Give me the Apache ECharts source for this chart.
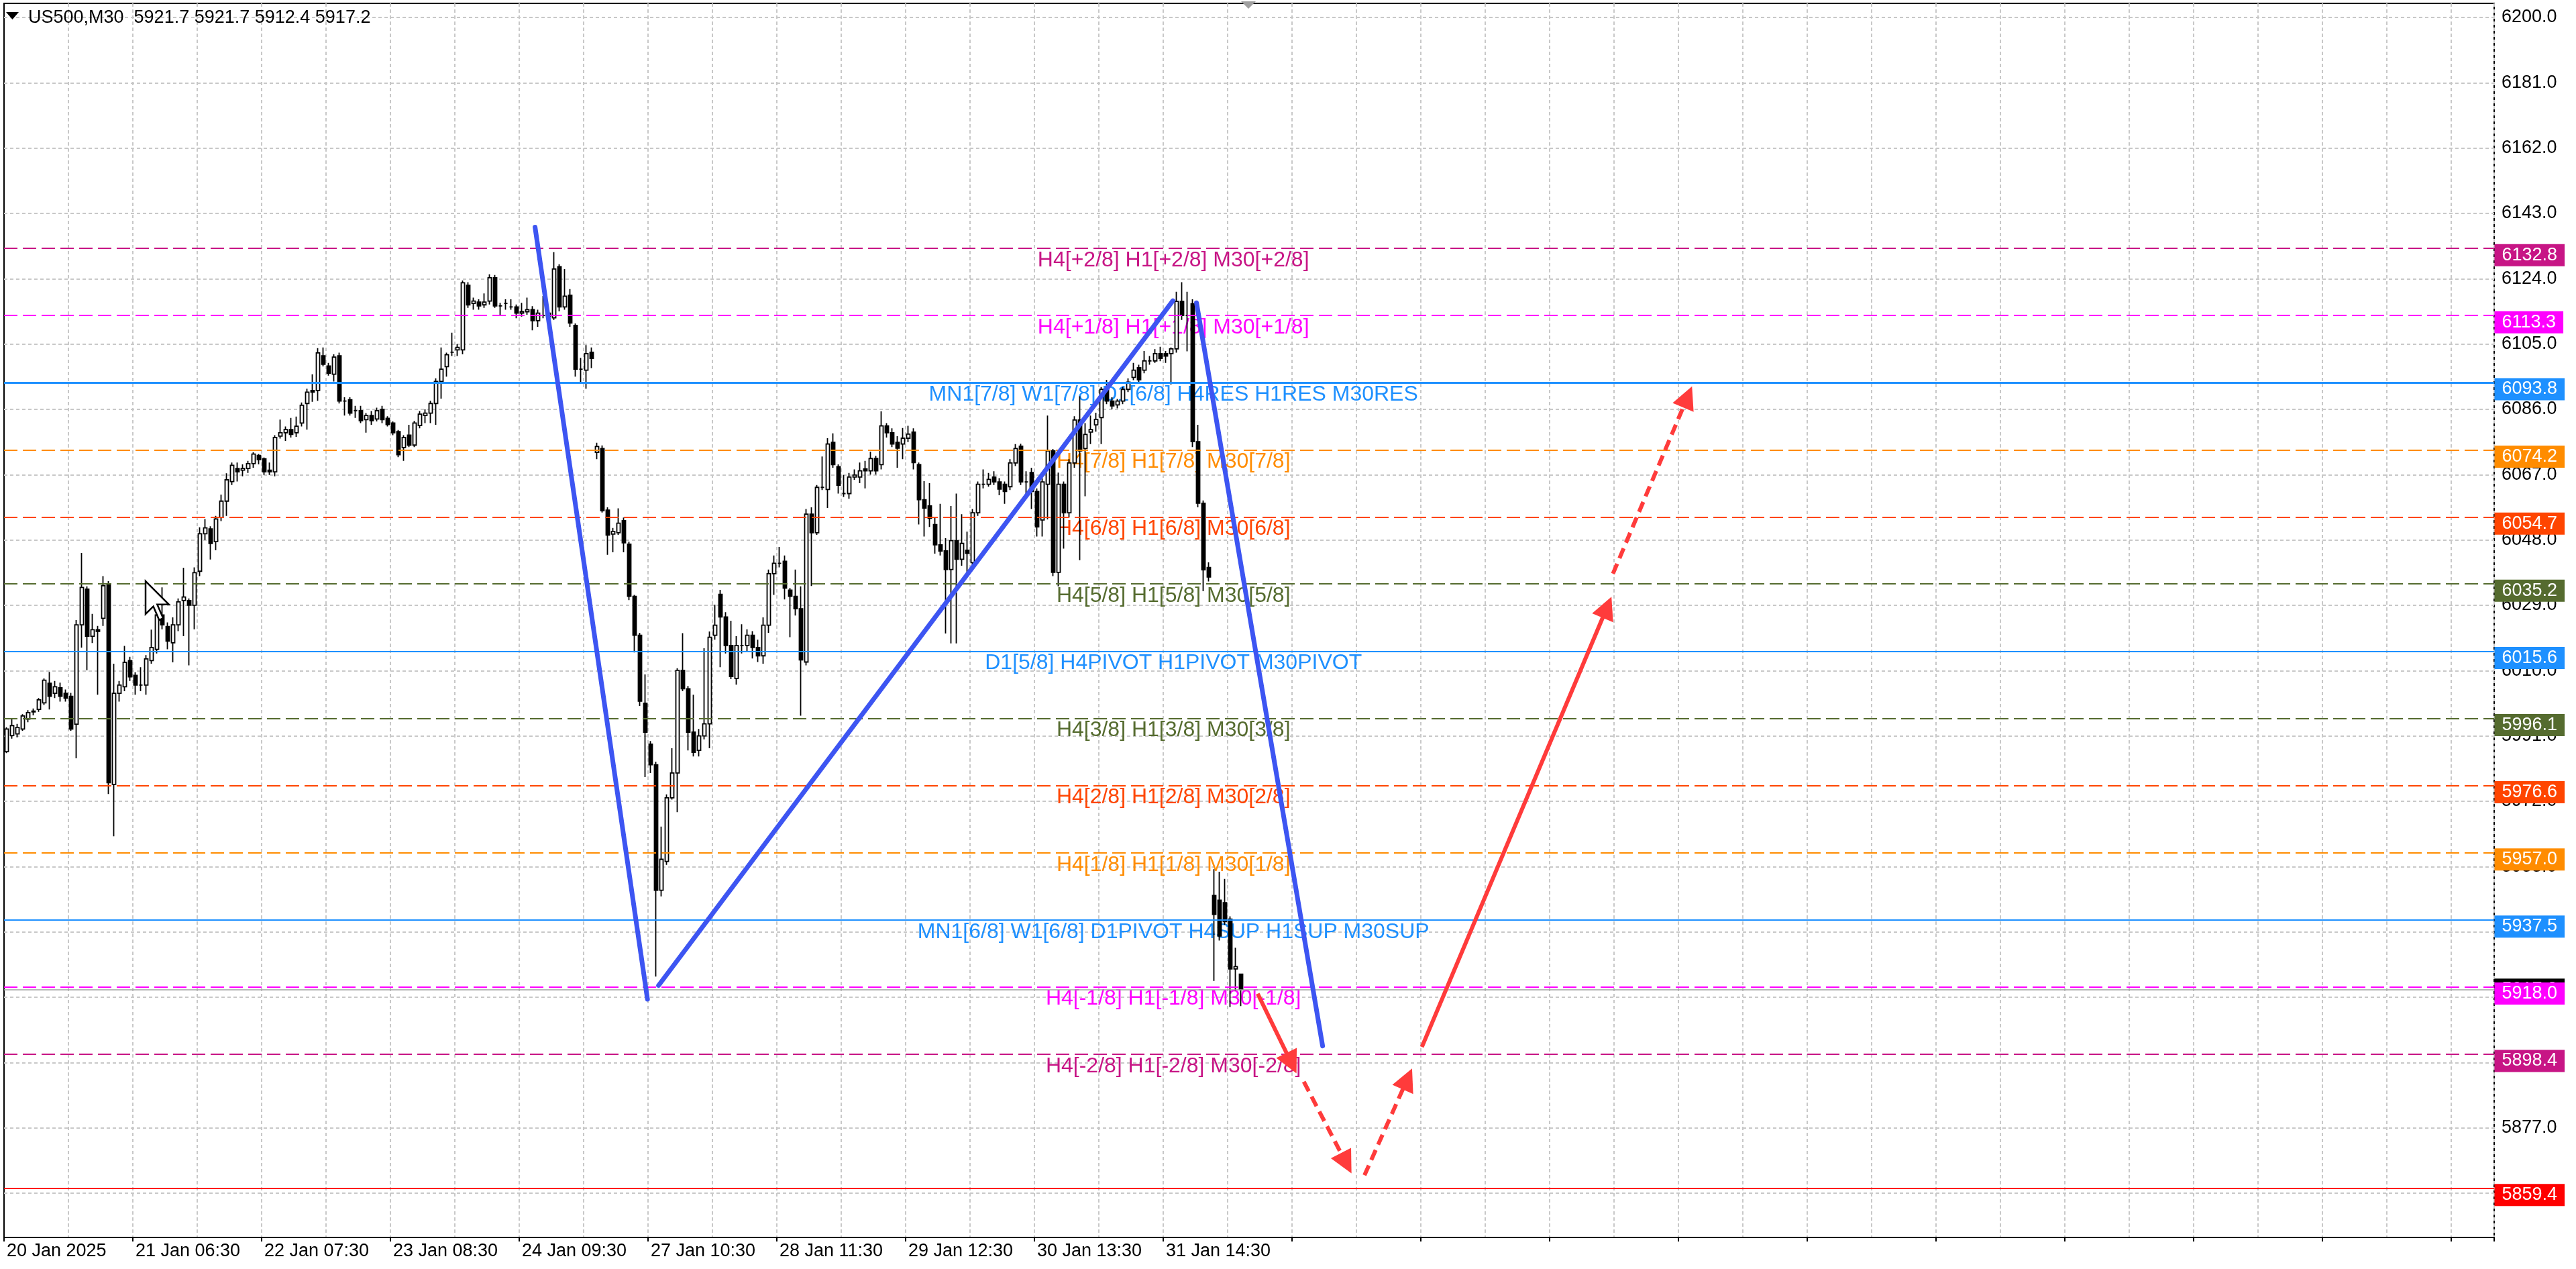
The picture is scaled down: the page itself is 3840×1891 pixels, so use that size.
<!DOCTYPE html>
<html>
<head>
<meta charset="utf-8">
<title>US500,M30</title>
<script src="https://cdn.jsdelivr.net/npm/echarts@6/dist/echarts.min.js"></script>
<style>
  html, body { margin: 0; padding: 0; background: #fff; }
  #chart { width: 3840px; height: 1891px; }
</style>
</head>
<body>
<div id="chart"></div>
<script>
// price history, one candle per hour (two M30 bars)
const opens = [
  5986.4,5991.1,5991.6,5993.0,5995.9,5998.0,5998.7,6000.6,6006.3,6003.4,
  6005.0,6003.4,6002.5,5994.4,6023.3,6033.7,6020.0,6021.9,6025.2,6035.2,
  5976.9,6003.4,6005.3,6012.9,6008.6,6005.8,6005.8,6012.9,6016.2,6026.2,
  6022.8,6018.1,6023.3,6030.4,6030.4,6029.0,6038.9,6049.8,6051.2,6047.5,
  6054.6,6059.3,6065.0,6068.8,6068.3,6068.8,6070.2,6072.6,6071.6,6068.3,
  6067.8,6078.2,6079.2,6080.1,6079.2,6082.0,6087.7,6091.5,6091.5,6101.6,
  6098.6,6096.2,6101.6,6088.4,6088.8,6085.6,6085.6,6083.0,6084.2,6083.2,
  6086.0,6083.4,6082.0,6079.5,6074.9,6078.5,6075.6,6081.3,6084.2,6084.9,
  6087.7,6094.1,6098.4,6102.6,6103.3,6103.3,6122.1,6116.8,6117.2,6116.4,
  6117.5,6124.3,6116.1,6116.8,6115.8,6115.8,6114.0,6114.4,6115.0,6111.8,
  6113.3,6114.0,6112.6,6127.5,6115.8,6119.2,6110.4,6097.7,6097.4,6102.6,
  6073.5,6074.6,6056.7,6049.7,6050.1,6053.6,6046.8,6031.6,6020.3,6000.5,
  5988.6,5982.6,5946.1,5954.5,5973.0,5980.2,6010.1,6004.7,5992.1,5986.8,
  5991.0,5994.5,6020.3,6032.2,6025.6,6017.3,6007.7,6017.3,6017.3,6020.3,
  6016.7,6014.3,6023.2,6038.2,6041.2,6041.8,6033.4,6031.6,6028.0,6012.5,
  6055.5,6050.1,6063.3,6062.7,6076.4,6069.3,6061.5,6061.5,6066.3,6066.3,
  6068.7,6068.1,6071.7,6069.9,6081.2,6079.2,6076.4,6075.9,6077.6,6079.4,
  6069.9,6059.7,6057.9,6052.5,6046.6,6044.8,6039.4,6047.8,6042.4,6045.0,
  6041.4,6055.9,6064.2,6064.2,6066.3,6064.9,6064.2,6063.5,6070.4,6075.3,
  6064.9,6067.6,6062.1,6053.8,6064.2,6073.9,6038.6,6064.2,6055.9,6070.4,
  6082.9,6074.6,6079.4,6081.5,6083.6,6091.8,6088.4,6087.3,6088.4,6091.8,
  6095.3,6098.1,6097.4,6100.1,6100.1,6102.2,6102.2,6102.2,6103.6,6117.4,
  6113.3,6116.7,6076.6,6058.7,6040.0,5944.6,5943.2,5942.5,5937.7,5923.2,
  5921.7
];
const closes = [
  5993.0,5994.0,5993.5,5996.8,5997.8,5998.2,6001.5,6007.2,6002.5,6005.3,
  6002.5,6002.0,5993.0,6023.3,6034.2,6020.0,6021.9,6021.4,6034.7,5977.4,
  6003.4,6005.8,6012.4,6008.2,6005.8,6005.8,6013.4,6016.7,6026.2,6023.3,
  6018.6,6023.3,6030.0,6031.4,6029.0,6038.5,6049.8,6051.5,6047.0,6054.1,
  6059.3,6065.5,6069.7,6067.8,6068.8,6070.2,6073.0,6071.4,6067.8,6067.8,
  6077.8,6079.2,6080.1,6078.7,6081.1,6087.2,6091.0,6091.0,6102.4,6099.1,
  6096.5,6101.2,6088.4,6088.4,6084.9,6085.6,6082.7,6084.2,6082.7,6085.6,
  6083.0,6081.6,6079.2,6072.8,6077.8,6075.6,6082.0,6084.6,6084.9,6087.7,
  6094.1,6097.7,6101.9,6102.6,6104.0,6122.8,6116.4,6117.5,6116.1,6117.2,
  6124.3,6116.1,6116.1,6116.8,6115.8,6114.0,6114.4,6115.0,6111.8,6114.0,
  6113.3,6113.0,6126.8,6115.8,6118.9,6111.1,6097.7,6097.7,6102.2,6100.8,
  6075.2,6056.5,6049.4,6050.5,6052.9,6047.2,6031.6,6020.3,6001.1,5992.1,
  5982.6,5946.1,5955.1,5973.0,5980.2,6010.1,6004.7,5992.1,5986.2,5991.0,
  5994.5,6019.7,6023.2,6025.6,6017.3,6008.3,6017.3,6017.3,6020.3,6016.7,
  6014.3,6023.2,6038.2,6041.2,6041.2,6034.0,6031.6,6028.0,6013.1,6055.5,
  6050.1,6063.3,6063.3,6075.9,6069.9,6063.9,6061.5,6066.3,6066.9,6068.1,
  6068.1,6071.7,6068.1,6081.2,6079.2,6075.9,6074.7,6077.6,6078.8,6070.5,
  6059.7,6057.3,6054.3,6046.6,6044.8,6039.4,6047.8,6042.4,6047.0,6044.1,
  6055.9,6064.2,6064.2,6065.6,6064.9,6062.8,6062.1,6070.4,6074.6,6064.9,
  6064.9,6062.1,6051.8,6064.9,6073.9,6038.6,6064.2,6055.9,6070.4,6082.9,
  6073.9,6078.7,6080.1,6083.1,6091.8,6088.4,6087.0,6088.4,6091.8,6093.9,
  6097.4,6094.6,6100.1,6100.1,6102.2,6100.8,6101.5,6103.6,6117.4,6113.3,
  6113.3,6076.6,6058.7,6039.3,6037.2,5939.1,5932.8,5937.0,5923.2,5923.9,
  5917.2
];
const lows = [
  5986.0,5990.2,5990.6,5992.5,5995.0,5997.0,5998.0,6000.0,5998.7,6002.0,
  6001.0,6001.0,5992.5,5984.5,6016.7,6010.1,6018.0,6003.0,6023.0,5974.1,
  5961.8,6001.0,6004.0,6007.0,6003.0,6004.0,6003.0,6012.0,6015.0,6022.0,
  6016.2,6012.4,6021.5,6020.0,6011.5,6022.0,6037.5,6048.0,6042.3,6045.0,
  6053.5,6055.0,6064.0,6065.0,6066.5,6067.5,6069.0,6070.0,6066.9,6066.9,
  6066.5,6077.5,6076.8,6077.8,6078.0,6081.0,6080.1,6088.2,6088.5,6098.5,
  6095.8,6094.1,6087.7,6084.2,6084.2,6083.5,6082.0,6079.2,6081.5,6082.5,
  6082.0,6081.0,6078.5,6072.1,6071.0,6075.0,6075.0,6080.5,6082.0,6082.0,
  6081.5,6089.1,6095.5,6101.5,6101.5,6102.0,6115.5,6115.0,6115.0,6115.5,
  6116.5,6115.5,6113.5,6115.0,6115.0,6112.5,6113.0,6113.5,6109.0,6110.0,
  6112.5,6112.0,6112.0,6114.5,6115.0,6110.0,6095.5,6093.4,6092.0,6098.0,
  6071.5,6056.0,6043.7,6044.4,6049.5,6044.4,6030.5,6015.3,5999.7,5979.0,
  5980.2,5921.0,5944.3,5953.5,5972.5,5968.8,6004.0,5986.8,5985.0,5985.0,
  5990.0,5987.4,6019.0,6011.0,6015.0,6007.5,6005.9,6015.0,6015.5,6013.5,
  6012.5,6012.0,6021.0,6032.0,6040.0,6030.7,6019.7,6026.0,5996.9,6011.5,
  6034.6,6049.5,6062.5,6057.3,6069.0,6061.5,6060.5,6060.0,6065.5,6064.5,
  6063.0,6067.0,6067.0,6068.5,6077.8,6075.0,6069.0,6071.5,6076.5,6068.5,
  6052.5,6049.0,6051.8,6044.0,6043.5,6020.8,6017.9,6017.9,6040.5,6037.2,
  6040.0,6055.0,6063.0,6063.5,6064.0,6061.0,6058.5,6062.5,6069.5,6064.0,
  6061.0,6057.0,6049.0,6049.0,6054.0,6037.5,6034.5,6045.5,6054.5,6069.0,
  6042.1,6060.7,6075.9,6079.5,6075.9,6087.5,6086.0,6086.3,6087.5,6091.0,
  6094.5,6093.5,6096.5,6099.0,6099.5,6100.0,6099.5,6093.2,6102.5,6112.0,
  6102.9,6075.0,6057.5,6033.1,6035.9,5919.7,5931.5,5936.0,5912.1,5916.9,
  5912.4
];
const highs = [
  5993.5,5996.0,5994.5,5997.3,5998.5,5999.0,6002.0,6007.7,6009.6,6007.0,
  6006.5,6004.5,6003.5,6024.7,6044.2,6034.5,6026.5,6023.0,6037.5,6036.0,
  6012.0,6007.0,6017.2,6014.0,6009.5,6011.0,6014.5,6021.9,6027.0,6034.2,
  6024.0,6025.5,6031.0,6039.9,6031.0,6040.0,6051.7,6054.1,6052.0,6055.0,
  6061.2,6067.4,6070.5,6070.5,6070.0,6071.0,6073.5,6073.0,6072.0,6070.5,
  6078.5,6083.0,6081.0,6083.5,6083.9,6088.0,6092.0,6096.2,6103.8,6104.0,
  6099.5,6102.0,6102.5,6089.5,6089.5,6087.0,6087.0,6084.9,6085.5,6086.5,
  6087.0,6084.0,6082.5,6080.0,6078.5,6081.5,6082.7,6085.5,6086.0,6088.5,
  6095.0,6104.0,6102.5,6108.3,6105.0,6123.5,6123.0,6118.5,6118.0,6119.7,
  6125.3,6125.1,6117.0,6118.0,6118.0,6116.5,6117.0,6118.5,6116.0,6115.0,
  6119.0,6114.5,6131.7,6128.2,6126.8,6121.0,6111.0,6101.0,6104.7,6104.0,
  6076.3,6075.5,6057.5,6051.5,6057.2,6054.5,6047.5,6032.0,6021.0,6008.9,
  5989.5,5983.5,5964.6,5974.0,5987.4,6010.7,6020.9,6005.5,6003.0,5993.0,
  6016.5,6021.4,6029.2,6033.5,6027.0,6024.5,6020.0,6023.5,6022.0,6021.5,
  6019.0,6025.5,6039.4,6043.5,6046.0,6043.5,6034.0,6039.4,6034.5,6057.0,
  6057.5,6064.0,6072.3,6077.6,6079.0,6070.0,6066.9,6067.5,6068.5,6070.5,
  6071.0,6073.7,6072.5,6085.4,6082.0,6080.5,6078.2,6080.6,6081.2,6080.5,
  6070.5,6065.1,6064.5,6054.5,6058.5,6048.5,6057.9,6061.5,6055.5,6050.4,
  6057.0,6065.0,6068.5,6067.5,6068.0,6066.0,6065.0,6071.5,6075.9,6076.0,
  6068.0,6069.0,6063.0,6066.0,6084.2,6074.5,6067.6,6065.0,6071.5,6084.0,
  6089.8,6082.0,6084.2,6085.0,6092.5,6094.6,6089.5,6089.0,6092.5,6095.0,
  6099.5,6099.0,6103.0,6101.5,6103.5,6104.2,6103.0,6104.0,6120.2,6123.0,
  6120.2,6118.0,6081.5,6059.5,6041.5,5952.2,5951.5,5949.4,5938.5,5929.4,
  5921.7
];

// time labels, one every 24 slots
const timeLabels = ['20 Jan 2025', '21 Jan 06:30', '22 Jan 07:30', '23 Jan 08:30', '24 Jan 09:30',
  '27 Jan 10:30', '28 Jan 11:30', '29 Jan 12:30', '30 Jan 13:30', '31 Jan 14:30'];

// price scale tick labels
const yTicks = [6200, 6181, 6162, 6143, 6124, 6105, 6086, 6067, 6048, 6029, 6010,
  5991, 5972, 5953, 5934, 5915, 5896, 5877, 5858];

// murrey math levels and their captions
const levelValues = [6132.8, 6113.3, 6093.8, 6074.2, 6054.7, 6035.2, 6015.6,
  5996.1, 5976.6, 5957.0, 5937.5, 5918.0, 5898.4];
const levelTexts = [
  'H4[+2/8] H1[+2/8] M30[+2/8]',
  'H4[+1/8] H1[+1/8] M30[+1/8]',
  'MN1[7/8] W1[7/8] D1[6/8] H4RES H1RES M30RES',
  'H4[7/8] H1[7/8] M30[7/8]',
  'H4[6/8] H1[6/8] M30[6/8]',
  'H4[5/8] H1[5/8] M30[5/8]',
  'D1[5/8] H4PIVOT H1PIVOT M30PIVOT',
  'H4[3/8] H1[3/8] M30[3/8]',
  'H4[2/8] H1[2/8] M30[2/8]',
  'H4[1/8] H1[1/8] M30[1/8]',
  'MN1[6/8] W1[6/8] D1PIVOT H4SUP H1SUP M30SUP',
  'H4[-1/8] H1[-1/8] M30[-1/8]',
  'H4[-2/8] H1[-2/8] M30[-2/8]'
];
const targetLevel = 5859.4;

// hand drawn objects, [slot, price] pairs
const trendLines = [
  [[98.95, 6139.0], [119.9, 5914.4]],
  [[121.96, 5918.4], [217.8, 6117.6]],
  [[222.2, 6117.0], [245.7, 5900.8]]
];
const forecastArrows = [
  [[233.6, 5916.0], [239.9, 5895.8]],
  [[242.2, 5890.4], [250.1, 5866.7]],
  [[253.5, 5863.2], [261.5, 5891.2]],
  [[264.2, 5900.5], [298.7, 6028.4]],
  [[299.8, 6038.2], [313.7, 6089.6]]
];

// styles
const FONT = 'Liberation Sans';
const levelColors = ['#C71585', '#FF00FF', '#1E90FF', '#FF8C00', '#FF4500', '#556B2F', '#1E90FF',
  '#556B2F', '#FF4500', '#FF8C00', '#1E90FF', '#FF00FF', '#C71585'];
const levelSolid = [false, false, true, false, false, false, true, false, false, false, true, false, false];
const arrowDashed = [false, true, true, false, true];
const GRID_GRAY = '#c8c8c8';
const N = 464;          // slots on the time axis (history + free space)
const labelX = 217.9;   // where the level captions are centred

const categories = [];
for (let i = 0; i < N; i++) {
  categories.push(i % 24 === 0 && timeLabels[i / 24] ? timeLabels[i / 24] : '');
}
const candles = opens.map((o, i) => [o, closes[i], lows[i], highs[i]]);
const last = opens.length - 1;
const bid = closes[last];
const title = 'US500,M30  ' + [opens[last], highs[last], lows[last], closes[last]]
  .map(v => v.toFixed(1)).join(' ');

const tagValues = levelValues.concat([targetLevel]);
const tagColors = levelColors.concat(['#FF0000']);

// mouse pointer left on the screenshot
const cursor = [[217, 866], [217, 915], [228.6, 903.7], [237.3, 924], [243.1, 921.1], [234.4, 900.8], [251.8, 900.8]];

const chart = echarts.init(document.getElementById('chart'));

const option = {
  backgroundColor: '#fff',
  animation: false,
  textStyle: { fontFamily: FONT },
  grid: { left: 6, right: 122, top: 5, bottom: 47, show: true, borderColor: '#000', borderWidth: 2 },
  xAxis: [
    {
      type: 'category',
      data: categories,
      boundaryGap: true,
      axisLine: { show: true, lineStyle: { color: '#000', width: 2 } },
      axisTick: { show: true, interval: i => i % 24 === 0, length: 6, lineStyle: { color: '#000', width: 2 } },
      axisLabel: {
        interval: i => i % 24 === 0, align: 'left', color: '#000',
        fontSize: 27, fontFamily: FONT, margin: 7, hideOverlap: false
      },
      splitLine: { show: true, interval: i => i % 12 === 0, lineStyle: { color: GRID_GRAY, width: 2, type: [5, 4] } }
    },
    { type: 'value', min: 0, max: N, show: false }
  ],
  yAxis: {
    type: 'value',
    position: 'right',
    min: 5845.1,
    max: 6204.1,
    axisLine: { show: true, lineStyle: { color: '#000', width: 2 } },
    axisTick: { show: true, customValues: yTicks, length: 5, lineStyle: { color: '#000', width: 2 } },
    axisLabel: {
      customValues: yTicks, formatter: v => v.toFixed(1), color: '#000',
      fontSize: 27, fontFamily: FONT, margin: 11
    },
    splitLine: { show: false }
  },
  series: [
    // horizontal grid
    {
      type: 'line', data: [], silent: true,
      markLine: {
        silent: true, z: 1, symbol: ['none', 'none'], animation: false,
        label: { show: false },
        lineStyle: { color: GRID_GRAY, width: 2, type: [5, 4] },
        data: yTicks.map(v => ({ yAxis: v }))
      }
    },
    // level captions in the middle of the chart
    {
      type: 'scatter', xAxisIndex: 1, yAxisIndex: 0, z: 2, silent: true, clip: false,
      symbolSize: 1, itemStyle: { color: 'rgba(0,0,0,0)' },
      label: {
        show: true, position: 'inside', offset: [0, 18], opacity: 1,
        fontSize: 32, fontFamily: FONT,
        formatter: p => levelTexts[p.dataIndex]
      },
      data: levelValues.map((v, i) => ({ value: [labelX, v], label: { color: levelColors[i] } }))
    },
    // price bars
    {
      type: 'candlestick', z: 3, silent: true,
      barWidth: 6,
      itemStyle: { color: '#fff', color0: '#000', borderColor: '#000', borderColor0: '#000', borderWidth: 1.8 },
      data: candles
    },
    // level lines
    {
      type: 'line', data: [], silent: true,
      markLine: {
        silent: true, z: 4, symbol: ['none', 'none'], animation: false,
        label: { show: false },
        data: levelValues.map((v, i) => ({
          yAxis: v,
          lineStyle: { color: levelColors[i], width: i === 2 ? 3 : 2, type: levelSolid[i] ? 'solid' : [20, 8] }
        })).concat([
          { yAxis: targetLevel, lineStyle: { color: '#FF0000', width: 2, type: 'solid' } },
          { yAxis: bid, lineStyle: { color: '#a0a0a0', width: 1.5, type: 'solid' } }
        ])
      }
    },
    // trend lines
    {
      type: 'lines', coordinateSystem: 'cartesian2d', xAxisIndex: 1, yAxisIndex: 0, z: 5, silent: true,
      symbol: ['none', 'none'],
      lineStyle: { color: '#3D55F2', width: 7, opacity: 1, cap: 'round' },
      data: trendLines.map(c => ({ coords: c }))
    },
    // forecast arrows
    {
      type: 'lines', coordinateSystem: 'cartesian2d', xAxisIndex: 1, yAxisIndex: 0, z: 5, silent: true,
      symbol: ['none', 'triangle'], symbolSize: 34,
      lineStyle: { color: '#FF3B3B', width: 6, opacity: 1 },
      data: forecastArrows.map((c, i) => ({
        coords: c,
        lineStyle: { type: arrowDashed[i] ? [16, 9] : 'solid' }
      }))
    },
    // bid tag (mostly hidden behind the -1/8 tag)
    {
      type: 'scatter', xAxisIndex: 1, yAxisIndex: 0, z: 6, silent: true, clip: false,
      symbolSize: 1, itemStyle: { color: 'rgba(0,0,0,0)' },
      label: {
        show: true, position: 'right', distance: 0, offset: [0, 0], opacity: 1,
        color: '#fff', backgroundColor: '#000', fontSize: 27, fontFamily: FONT,
        lineHeight: 25, padding: [4, 11, 4, 11],
        formatter: () => bid.toFixed(1)
      },
      data: [[N, bid]]
    },
    // price tags on the scale
    {
      type: 'scatter', xAxisIndex: 1, yAxisIndex: 0, z: 7, silent: true, clip: false,
      symbolSize: 1, itemStyle: { color: 'rgba(0,0,0,0)' },
      label: {
        show: true, position: 'right', distance: 0, offset: [0, 10], opacity: 1,
        color: '#fff', fontSize: 27, fontFamily: FONT,
        lineHeight: 25, padding: [4, 11, 4, 11],
        formatter: p => tagValues[p.dataIndex].toFixed(1)
      },
      data: tagValues.map((v, i) => ({ value: [N, v], label: { backgroundColor: tagColors[i] } }))
    }
  ],
  graphic: [
    { type: 'polygon', z: 100, silent: true, shape: { points: [[9, 18], [28, 18], [18.5, 29]] }, style: { fill: '#000' } },
    {
      type: 'text', z: 100, silent: true, x: 42, y: 27,
      style: { text: title, fill: '#000', font: '27px "Liberation Sans"', verticalAlign: 'middle' }
    },
    { type: 'polygon', z: 100, silent: true, shape: { points: [[1850, 2], [1872, 2], [1861, 13]] }, style: { fill: '#a0a0a0' } },
    { type: 'polygon', z: 100, silent: true, shape: { points: cursor }, style: { fill: '#fff', stroke: '#000', lineWidth: 2.5 } }
  ]
};

chart.setOption(option);
</script>
</body>
</html>
